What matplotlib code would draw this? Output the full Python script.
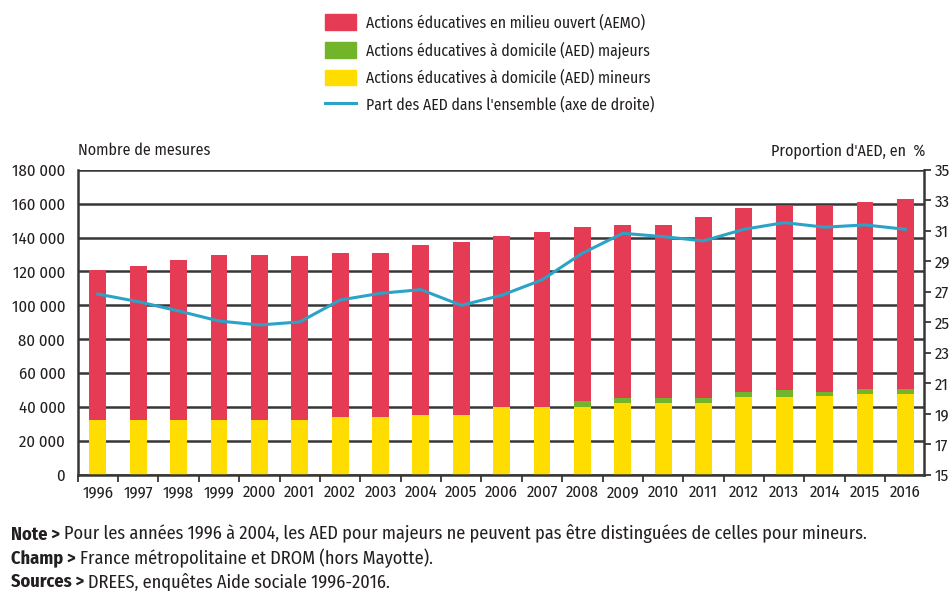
import matplotlib
matplotlib.use("Agg")
import matplotlib.pyplot as plt
import numpy as np
from matplotlib.patches import Patch
from matplotlib.lines import Line2D
from matplotlib.ticker import FuncFormatter, FixedLocator

plt.rcParams["font.family"] = ["Fira Sans Condensed", "DejaVu Sans"]

years = [str(y) for y in range(1996, 2017)]
total = [121000, 123000, 126500, 130000, 130000, 129000, 131000, 131000, 135500, 137600,
         141000, 143400, 146500, 147500, 147500, 152000, 157400, 158500, 158500, 160900, 162900]
aed_mineurs = [32200, 32200, 32200, 32200, 32200, 32200, 34200, 34200, 35400, 35400,
               39700, 39700, 39700, 42100, 42100, 42100, 45600, 45600, 46400, 47600, 47600]
aed_majeurs = [0, 0, 0, 0, 0, 0, 0, 0, 0, 0,
               0, 0, 3600, 3300, 3300, 3300, 3200, 4200, 2400, 3100, 3100]
part_aed = [26.85, 26.35, 25.74, 25.08, 24.82, 25.02, 26.46, 26.9, 27.14, 26.11,
            26.77, 27.78, 29.53, 30.84, 30.62, 30.34, 31.1, 31.54, 31.24, 31.39, 31.1]

aemo = [t - mi - ma for t, mi, ma in zip(total, aed_mineurs, aed_majeurs)]

red = "#e63b55"
green = "#72b52b"
yellow = "#ffdd00"
blue = "#2aa3c6"
txt = "#231f20"
grid = "#363636"

fig = plt.figure(figsize=(9.53, 5.91), dpi=100)
ax = fig.add_axes([0.0815, 0.197, 0.888, 0.5155])
x = np.arange(len(years))
w = 0.42

ax.bar(x, aed_mineurs, w, color=yellow, zorder=2)
ax.bar(x, aed_majeurs, w, bottom=aed_mineurs, color=green, zorder=2)
bottom2 = [a + b for a, b in zip(aed_mineurs, aed_majeurs)]
ax.bar(x, aemo, w, bottom=bottom2, color=red, zorder=2)

ax.set_xlim(-0.5, 20.46)
ax.set_ylim(0, 180000)
ax.set_yticks(np.arange(0, 180001, 20000))
ax.yaxis.set_major_formatter(FuncFormatter(lambda v, p: f"{int(v):,}".replace(",", " ")))
ax.grid(axis="y", color=grid, lw=1.8, zorder=0)
ax.set_axisbelow(True)
ax.set_xticks(x)
ax.set_xticklabels(years)
ax.xaxis.set_minor_locator(FixedLocator(np.arange(-0.5, 20.6, 1.0)))
ax.tick_params(axis="x", which="major", length=0, labelsize=12, colors=txt, pad=7)
ax.tick_params(axis="x", which="minor", length=5, width=1.3, color=grid, direction="out")
ax.tick_params(axis="y", length=0, labelsize=12, colors=txt, pad=9)
for s in ["left", "bottom"]:
    ax.spines[s].set_color(grid)
    ax.spines[s].set_linewidth(1.8)
ax.spines["top"].set_visible(False)
ax.spines["right"].set_visible(False)

ax2 = ax.twinx()
ax2.plot(x, part_aed, color=blue, lw=2.2, zorder=5)
ax2.set_ylim(15, 35)
ax2.set_yticks(np.arange(15, 36, 2))
ax2.tick_params(axis="y", length=5, width=1.3, color=grid, labelsize=12, labelcolor=txt, pad=3)
for s in ["left", "top", "bottom"]:
    ax2.spines[s].set_visible(False)
ax2.spines["right"].set_color(grid)
ax2.spines["right"].set_linewidth(1.8)

fig.text(0.0815, 0.745, "Nombre de mesures", fontsize=11.5, color=txt, ha="left", va="center")
fig.text(0.971, 0.745, "Proportion d'AED, en  %", fontsize=11.5, color=txt, ha="right", va="center")

handles = [
    Patch(color=red, label="Actions éducatives en milieu ouvert (AEMO)"),
    Patch(color=green, label="Actions éducatives à domicile (AED) majeurs"),
    Patch(color=yellow, label="Actions éducatives à domicile (AED) mineurs"),
    Line2D([], [], color=blue, lw=2.2, label="Part des AED dans l'ensemble (axe de droite)"),
]
leg = fig.legend(handles=handles, loc="upper left", bbox_to_anchor=(0.326, 1.0), frameon=False,
                 fontsize=11.3, handlelength=2.0, handleheight=1.1, labelspacing=0.68, handletextpad=0.6)
for t in leg.get_texts():
    t.set_color(txt)

notes = [
    ("Note > ", "Pour les années 1996 à 2004, les AED pour majeurs ne peuvent pas être distinguées de celles pour mineurs."),
    ("Champ > ", "France métropolitaine et DROM (hors Mayotte)."),
    ("Sources > ", "DREES, enquêtes Aide sociale 1996-2016."),
]
ys = [0.087, 0.046, 0.006]
for (b, r), yy in zip(notes, ys):
    bt = fig.text(0.012, yy, b, fontsize=13.2, fontweight="bold", color=txt, ha="left", va="baseline")
    ax.annotate(r, xy=(1, 0), xycoords=bt, fontsize=13.2, color=txt, ha="left", va="bottom",
                annotation_clip=False)

fig.savefig("out.png", dpi=100)
